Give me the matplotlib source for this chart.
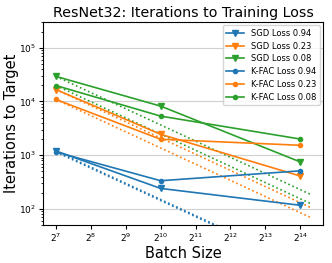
import numpy as np
import matplotlib
matplotlib.use("Agg")
import matplotlib.pyplot as plt

batch_sizes = [128, 1024, 16384]
ideal_x = [128, 20000]

sgd_094 = [1200, 241, 117]
sgd_023 = [16700, 2450, 410]
sgd_008 = [29300, 8200, 750]
kfac_094 = [1150, 335, 512]
kfac_023 = [10900, 1980, 1530]
kfac_008 = [19800, 5340, 2000]

losses = ["0.94", "0.23", "0.08"]
colors = ["tab:blue", "tab:orange", "tab:green"]

fig = plt.figure(figsize=(3.32, 2.63), dpi=100)
ax = fig.add_axes([0.13, 0.144, 0.843, 0.772])

# ideal (linear) scaling lines from the batch-128 value
for vals, c in zip([sgd_094, sgd_023, sgd_008, kfac_094, kfac_023, kfac_008], colors * 2):
    ideal_y = [vals[0] * ideal_x[0] / x for x in ideal_x]
    ax.plot(ideal_x, ideal_y, ":", color=c, lw=1.2)

for vals, c, l in zip([sgd_094, sgd_023, sgd_008], colors, losses):
    ax.plot(batch_sizes, vals, "-v", color=c, lw=1.2, ms=5, label="SGD Loss " + l)
for vals, c, l in zip([kfac_094, kfac_023, kfac_008], colors, losses):
    ax.plot(batch_sizes, vals, color=c, lw=1.2, marker=".", ms=6,
            label="K-FAC Loss " + l)

ax.set_xscale("log", base=2)
ax.set_yscale("log")
ax.set_ylim(50, 3e5)
ax.set_xticks([2 ** k for k in range(7, 15)])
ax.grid(axis="y", color="#d0d0d0", lw=0.8)
ax.tick_params(labelsize=6.5, pad=2, length=3)
ax.tick_params(which="minor", length=1.5)
ax.set_title("ResNet32: Iterations to Training Loss", fontsize=10.3, pad=4)
ax.set_xlabel("Batch Size", fontsize=10.5, labelpad=1)
ax.set_ylabel("Iterations to Target", fontsize=10.5, labelpad=0)
ax.legend(loc="upper right", fontsize=6, labelspacing=0.45, handlelength=2.2,
          borderaxespad=0.4)

fig.savefig("out.png", dpi=100)
